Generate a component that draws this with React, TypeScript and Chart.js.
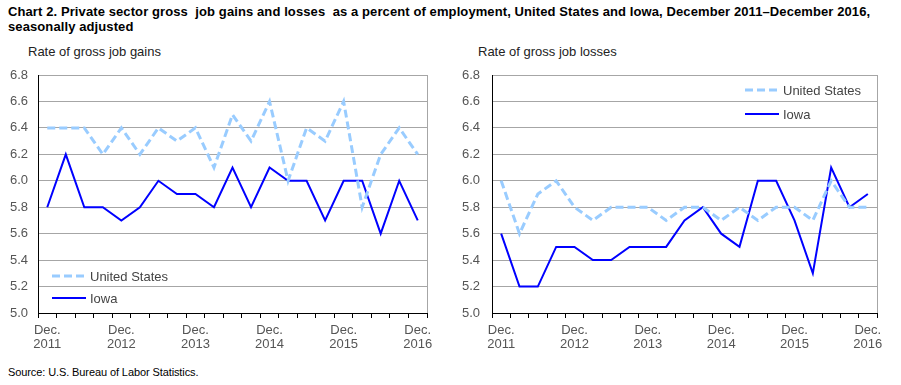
import React, { useEffect, useRef } from "react";
import { Chart, registerables } from "chart.js";

Chart.register(...registerables);

const categories: string[][] = [
  ["Dec.", "2011"], [""], [""], [""],
  ["Dec.", "2012"], [""], [""], [""],
  ["Dec.", "2013"], [""], [""], [""],
  ["Dec.", "2014"], [""], [""], [""],
  ["Dec.", "2015"], [""], [""], [""],
  ["Dec.", "2016"],
];

const gainsUS = [6.4, 6.4, 6.4, 6.2, 6.4, 6.2, 6.4, 6.3, 6.4, 6.1, 6.5, 6.3, 6.6, 6.0, 6.4, 6.3, 6.6, 5.8, 6.2, 6.4, 6.2];
const gainsIowa = [5.8, 6.2, 5.8, 5.8, 5.7, 5.8, 6.0, 5.9, 5.9, 5.8, 6.1, 5.8, 6.1, 6.0, 6.0, 5.7, 6.0, 6.0, 5.6, 6.0, 5.7];
const lossesUS = [6.0, 5.6, 5.9, 6.0, 5.8, 5.7, 5.8, 5.8, 5.8, 5.7, 5.8, 5.8, 5.7, 5.8, 5.7, 5.8, 5.8, 5.7, 6.0, 5.8, 5.8];
const lossesIowa = [5.6, 5.2, 5.2, 5.5, 5.5, 5.4, 5.4, 5.5, 5.5, 5.5, 5.7, 5.8, 5.6, 5.5, 6.0, 6.0, 5.7, 5.3, 6.1, 5.8, 5.9];

const seriesNames = ["United States", "Iowa"];
const yMin = 5.0;
const yMax = 6.8;
const yStep = 0.2;

const US_COLOR = "#99ccff";
const IOWA_COLOR = "#0000ff";
const FONT = "Arial, 'Liberation Sans', sans-serif";

type LegendPos = { x: number; y: number; gap: number };

function makeLegendPlugin(pos: LegendPos) {
  return {
    id: "insideLegend",
    afterDraw(chart: any) {
      const ctx = chart.ctx;
      const area = chart.chartArea;
      ctx.save();
      ctx.strokeStyle = "#a6a6a6";
      ctx.lineWidth = 1;
      ctx.beginPath();
      ctx.moveTo(Math.round(area.right) + 0.5, area.top);
      ctx.lineTo(Math.round(area.right) + 0.5, area.bottom);
      ctx.stroke();

      const x0 = area.left + pos.x;
      const items = chart.data.datasets;
      items.forEach((ds: any, i: number) => {
        const y = area.top + pos.y + i * pos.gap;
        ctx.beginPath();
        ctx.strokeStyle = ds.borderColor;
        ctx.lineWidth = ds.borderWidth;
        ctx.setLineDash(ds.borderDash || []);
        ctx.moveTo(x0, y);
        ctx.lineTo(x0 + 34, y);
        ctx.stroke();
        ctx.setLineDash([]);
        ctx.fillStyle = "#444";
        ctx.font = `13px ${FONT}`;
        ctx.textBaseline = "middle";
        ctx.textAlign = "left";
        ctx.fillText(ds.label, x0 + 38, y + 1);
      });
      ctx.restore();
    },
  };
}

function LineChart(props: {
  us: number[];
  iowa: number[];
  yAxisWidth: number;
  labelPad: number;
  legend: LegendPos;
}) {
  const ref = useRef<HTMLCanvasElement | null>(null);
  useEffect(() => {
    if (!ref.current) return;
    const chart = new Chart(ref.current, {
      type: "line",
      data: {
        labels: categories,
        datasets: [
          {
            label: seriesNames[0],
            data: props.us,
            borderColor: US_COLOR,
            backgroundColor: US_COLOR,
            borderWidth: 3,
            borderDash: [8, 4],
            pointRadius: 0,
            tension: 0,
          },
          {
            label: seriesNames[1],
            data: props.iowa,
            borderColor: IOWA_COLOR,
            backgroundColor: IOWA_COLOR,
            borderWidth: 2,
            pointRadius: 0,
            tension: 0,
          },
        ],
      },
      options: {
        animation: false,
        responsive: false,
        maintainAspectRatio: false,
        layout: { padding: { top: 15, right: 23, left: 0, bottom: 0 } },
        plugins: { legend: { display: false }, tooltip: { enabled: false } },
        scales: {
          x: {
            type: "category",
            offset: true,
            grid: {
              offset: true,
              drawOnChartArea: false,
              drawTicks: true,
              tickLength: 5,
              color: "#000",
            },
            border: { color: "#000", width: 1 },
            ticks: {
              autoSkip: false,
              maxRotation: 0,
              minRotation: 0,
              padding: 5,
              color: "#555",
              font: { family: FONT, size: 13, lineHeight: 1.08 },
            },
            afterFit(scale: any) {
              scale.height = 42;
              scale.paddingLeft = 0;
              scale.paddingRight = 0;
            },
          },
          y: {
            min: yMin,
            max: yMax,
            grid: { color: "#a6a6a6", drawTicks: false },
            border: { color: "#000", width: 1 },
            ticks: {
              stepSize: yStep,
              padding: props.labelPad,
              color: "#555",
              font: { family: FONT, size: 13 },
              callback: (v: any) => Number(v).toFixed(1),
            },
            afterFit(scale: any) {
              scale.width = props.yAxisWidth;
              scale.paddingTop = 0;
              scale.paddingBottom = 0;
            },
          },
        },
      },
      plugins: [makeLegendPlugin(props.legend)],
    } as any);
    return () => chart.destroy();
  }, []);
  return <canvas ref={ref} width={450} height={295} style={{ display: "block", width: 450, height: 295 }} />;
}

export default function App() {
  useEffect(() => {
    document.body.style.margin = "0";
  }, []);
  const titleStyle: React.CSSProperties = {
    position: "absolute",
    left: 8,
    top: 4,
    width: 895,
    font: `bold 13px ${FONT}`,
    letterSpacing: "0.1px",
    lineHeight: "15px",
    color: "#000",
    whiteSpace: "pre-wrap",
  };
  const subStyle: React.CSSProperties = {
    position: "absolute",
    font: `13px ${FONT}`,
    color: "#222",
    whiteSpace: "nowrap",
  };
  return (
    <div style={{ position: "relative", width: 901, height: 385, background: "#fff", overflow: "hidden" }}>
      <div style={titleStyle}>
        {"Chart 2. Private sector gross  job gains and losses  as a percent of employment, United States and Iowa, December 2011\u2013December 2016,"}
        <br />
        {"seasonally adjusted"}
      </div>
      <div style={{ ...subStyle, left: 28, top: 44 }}>Rate of gross job gains</div>
      <div style={{ ...subStyle, left: 478, top: 44 }}>Rate of gross job losses</div>
      <div style={{ position: "absolute", left: 0, top: 60 }}>
        <LineChart us={gainsUS} iowa={gainsIowa} yAxisWidth={38} labelPad={10} legend={{ x: 14, y: 201, gap: 22 }} />
      </div>
      <div style={{ position: "absolute", left: 450, top: 60 }}>
        <LineChart us={lossesUS} iowa={lossesIowa} yAxisWidth={42} labelPad={12} legend={{ x: 253, y: 15, gap: 24 }} />
      </div>
      <div style={{ position: "absolute", left: 8, top: 366, font: `11px ${FONT}`, letterSpacing: "-0.1px", color: "#000" }}>
        Source: U.S. Bureau of Labor Statistics.
      </div>
    </div>
  );
}
